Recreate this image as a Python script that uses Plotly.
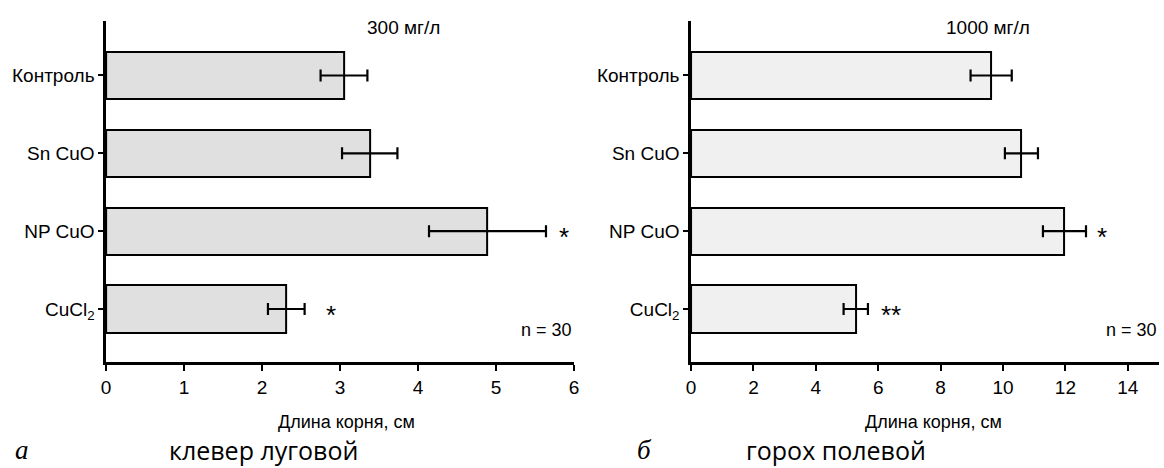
import plotly.graph_objects as go

categories = ["CuCl<sub>2</sub>", "NP CuO", "Sn CuO", "Контроль"]

clover_values = [2.31, 4.89, 3.38, 3.05]
clover_errors = [0.235, 0.75, 0.355, 0.30]
clover_marks = ["*", "*", "", ""]

pea_values = [5.28, 11.97, 10.59, 9.62]
pea_errors = [0.39, 0.69, 0.53, 0.66]
pea_marks = ["**", "*", "", ""]

clover_ticks = [0, 1, 2, 3, 4, 5, 6]
pea_ticks = [0, 2, 4, 6, 8, 10, 12, 14]

W, H = 1164, 468
FONT = "Liberation Sans, Arial, sans-serif"

ypos = list(range(len(categories)))

fig = go.Figure()

fig.add_trace(go.Bar(
    y=ypos, x=clover_values, orientation="h", width=0.604,
    marker=dict(color="#e0e0e0", line=dict(color="black", width=2)),
    error_x=dict(type="data", array=clover_errors, visible=True,
                 color="black", thickness=2.2, width=6),
    xaxis="x", yaxis="y", showlegend=False, hoverinfo="skip"))

fig.add_trace(go.Bar(
    y=ypos, x=pea_values, orientation="h", width=0.604,
    marker=dict(color="#f0f0f0", line=dict(color="black", width=2)),
    error_x=dict(type="data", array=pea_errors, visible=True,
                 color="black", thickness=2.2, width=6),
    xaxis="x2", yaxis="y2", showlegend=False, hoverinfo="skip"))

ydom = [1 - 362 / H, 1 - 21 / H]
yrange = [-0.681, 3.70]

axis_common = dict(showline=True, linewidth=2.5, linecolor="black",
                   ticks="outside", ticklen=6, tickwidth=2, tickcolor="black",
                   showgrid=False, zeroline=False,
                   tickfont=dict(family=FONT, size=19, color="black"))

fig.update_layout(
    width=W, height=H, margin=dict(l=0, r=0, t=0, b=0),
    paper_bgcolor="white", plot_bgcolor="white",
    bargap=0,
    xaxis=dict(domain=[102 / W, 574 / W], range=[0, 6], anchor="y",
               tickvals=clover_ticks, **axis_common),
    yaxis=dict(domain=ydom, range=yrange, anchor="x",
               tickvals=ypos, ticktext=categories, **{**axis_common, "ticklen": 5}),
    xaxis2=dict(domain=[692 / W, 1.0], range=[0, 15], anchor="y2",
                tickvals=pea_ticks, **axis_common),
    yaxis2=dict(domain=ydom, range=yrange, anchor="x2",
                tickvals=ypos, ticktext=categories, **{**axis_common, "ticklen": 5}),
)

ann = []
star_shift = {("x", 0): 19, ("x", 1): 11, ("x2", 0): 11, ("x2", 1): 9}
for xr, yr, vals, errs, marks in [("x", "y", clover_values, clover_errors, clover_marks),
                                  ("x2", "y2", pea_values, pea_errors, pea_marks)]:
    for i, (v, e, m) in enumerate(zip(vals, errs, marks)):
        if m:
            ann.append(dict(x=v + e, y=i, xref=xr, yref=yr, text=m, showarrow=False,
                            xanchor="left", yanchor="middle",
                            xshift=star_shift[(xr, i)], yshift=-6,
                            font=dict(family=FONT, size=26, color="black")))

def py(px):
    return 1 - px / H

for xd, title in [("x domain", "300 мг/л"), ("x2 domain", "1000 мг/л")]:
    ann.append(dict(x=0.635, y=py(27), xref=xd, yref="paper", text=title,
                    showarrow=False, xanchor="center", yanchor="middle",
                    font=dict(family=FONT, size=19, color="black")))
    ann.append(dict(x=1.0, y=py(330), xref=xd, yref="paper", text="n = 30",
                    showarrow=False, xanchor="right", yanchor="middle",
                    font=dict(family=FONT, size=18, color="black")))

for cx, text in [(344, "Длина корня, см"), (937, "Длина корня, см")]:
    ann.append(dict(x=cx / W, y=py(422), xref="paper", yref="paper", text=text,
                    showarrow=False, xanchor="center", yanchor="middle",
                    font=dict(family=FONT, size=18, color="black")))

for cx, text in [(17, "а"), (645, "б")]:
    ann.append(dict(x=cx / W, y=py(450), xref="paper", yref="paper", text="<i>" + text + "</i>",
                    showarrow=False, xanchor="center", yanchor="middle",
                    font=dict(family="Liberation Serif, serif", size=27, color="black")))

for cx, text in [(261, "клевер луговой"), (838, "горох полевой")]:
    ann.append(dict(x=cx / W, y=py(450), xref="paper", yref="paper", text=text,
                    showarrow=False, xanchor="center", yanchor="middle",
                    font=dict(family="Open Sans, Noto Sans, sans-serif", size=25, color="black")))

fig.update_layout(annotations=ann)

fig.write_html("out.html", config={"displayModeBar": False},
               post_script="document.body.style.margin='0';document.body.style.overflow='hidden';")
